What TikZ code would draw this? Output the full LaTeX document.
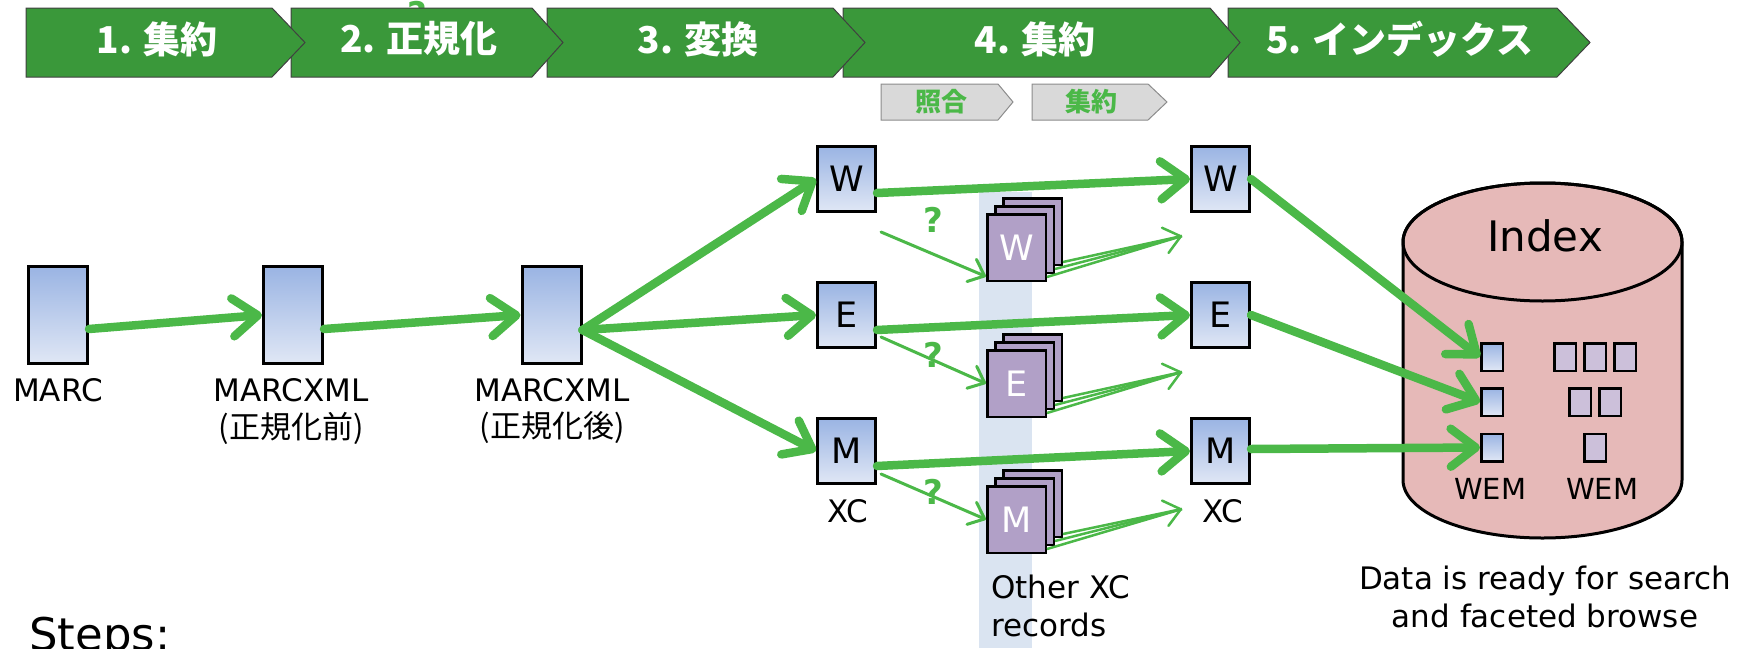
\documentclass[tikz,border=0pt]{standalone}
\usepackage{fontspec}
\setmainfont{DejaVu Sans}
\newfontfamily\jp{Noto Sans CJK JP}
\usetikzlibrary{arrows.meta,calc}
\definecolor{chev}{HTML}{3A983A}
\definecolor{arr}{HTML}{4BB848}
\definecolor{boxtop}{HTML}{9AB4E3}
\definecolor{boxbot}{HTML}{E0E7F5}
\definecolor{pagec}{HTML}{B1A0C7}
\definecolor{idx}{HTML}{E6B9B8}
\definecolor{idxp}{HTML}{CCC0DA}
\definecolor{shadec}{HTML}{DAE4F1}
\definecolor{subfill}{HTML}{D9D9D9}
\newcommand\myfs[1]{\fontsize{#1}{#1}\selectfont}
\begin{document}
\begin{tikzpicture}[x=1pt,y=-1pt,
 every node/.style={inner sep=0pt},
 chevshape/.style={fill=chev,draw=black!75,line width=1pt},
 chevtext/.style={text=white,font=\jp\bfseries\myfs{37}},
 subshape/.style={fill=subfill,draw=black!45,line width=1pt},
 subtext/.style={text=arr,font=\jp\bfseries\myfs{26}},
 bluebox/.style={draw=black,line width=3pt,top color=boxtop,bottom color=boxbot,minimum width=58pt,minimum height=65pt,font=\myfs{35}},
 tallbox/.style={draw=black,line width=3pt,top color=boxtop,bottom color=boxbot,minimum width=59pt,minimum height=97pt},
 pagebox/.style={draw=black,line width=2.5pt,fill=pagec,minimum width=58.5pt,minimum height=66.5pt,text=white,font=\myfs{35}},
 lbl/.style={font=\myfs{31}},
 jlbl/.style={font=\jp\myfs{31}},
 fatarrow/.style={draw=arr,line width=8.5pt,line cap=round,-{Straight Barb[length=25pt,width=38pt,round]}},
 thinarrow/.style={draw=arr,line width=3pt,line cap=round,-{Straight Barb[length=14pt,width=24pt,round]}},
 fanarrow/.style={draw=arr,line width=2.5pt,-{Straight Barb[length=16pt,width=26pt,round]}},
 fanline/.style={draw=arr,line width=2.5pt},
 qmark/.style={text=arr,font=\bfseries\myfs{34}},
 idxblue/.style={draw=black,line width=2.5pt,top color=boxtop,bottom color=boxbot,minimum width=21.5pt,minimum height=27.5pt},
 idxpurple/.style={draw=black,line width=2.5pt,fill=idxp,minimum width=21.5pt,minimum height=27.5pt},
]
\useasboundingbox (0,0) rectangle (1745,648);

% hidden question mark behind chevron 2
\node[qmark] (qtop) at (417,14) {?};

% chevrons (drawn right to left so tips overlap next)
\path[chevshape] (1228,8) -- (1557,8) -- (1590,42.5) -- (1557,77) -- (1228,77) -- cycle;
\path[chevshape] (843,8) -- (1210,8) -- (1240,42.5) -- (1210,77) -- (843,77) -- cycle;
\path[chevshape] (547,8) -- (833,8) -- (865,42.5) -- (833,77) -- (547,77) -- cycle;
\path[chevshape] (291,8) -- (532,8) -- (563,42.5) -- (532,77) -- (291,77) -- cycle;
\path[chevshape] (26,8) -- (272,8) -- (305,42.5) -- (272,77) -- (26,77) -- cycle;
\node[chevtext] (c1) at (157,39) {1. 集約};
\node[chevtext] (c2) at (419,39) {2. 正規化};
\node[chevtext] (c3) at (698,39) {3. 変換};
\node[chevtext] (c4) at (1035,39) {4. 集約};
\node[chevtext] (c5) at (1400,39) {5. インデックス};

% sub chevrons
\path[subshape] (881,84) -- (998,84) -- (1013,102) -- (998,120) -- (881,120) -- cycle;
\path[subshape] (1032,84) -- (1148,84) -- (1167,102) -- (1148,120) -- (1032,120) -- cycle;
\node[subtext] (s1) at (941,102) {照合};
\node[subtext] (s2) at (1091,102) {集約};

% shaded column
\fill[shadec] (979,192) rectangle (1032,648);

% source boxes
\node[tallbox] (marc) at (58,315) {};
\node[tallbox] (mx1) at (293,315) {};
\node[tallbox] (mx2) at (551.5,315) {};
\node[lbl,anchor=base] (lmarc) at (58,401) {MARC};
\node[lbl,anchor=base] (lmx1) at (291,401) {MARCXML};
\node[jlbl] (lmx1b) at (291,428) {(正規化前)};
\node[lbl,anchor=base] (lmx2) at (552,401) {MARCXML};
\node[jlbl] (lmx2b) at (552,428) {(正規化後)};

% XC boxes
\node[bluebox] (wl) at (846.5,179) {W};
\node[bluebox] (el) at (846.5,315) {E};
\node[bluebox] (ml) at (846.5,451) {M};
\node[bluebox] (wr) at (1220.5,179) {W};
\node[bluebox] (er) at (1220.5,315) {E};
\node[bluebox] (mr) at (1220.5,451) {M};
\node[lbl,anchor=base] (xcl) at (848,522) {XC};
\node[lbl,anchor=base] (xcr) at (1223,522) {XC};

% page stacks
\node[pagebox] (pw1) at (1032.5,231.5) {};
\node[pagebox] (pw2) at (1024.5,239.5) {};
\node[pagebox] (pw) at (1016.5,247.5) {W};
\node[pagebox] (pe1) at (1032.5,367.5) {};
\node[pagebox] (pe2) at (1024.5,375.5) {};
\node[pagebox] (pe) at (1016.5,383.5) {E};
\node[pagebox] (pm1) at (1032.5,503.5) {};
\node[pagebox] (pm2) at (1024.5,511.5) {};
\node[pagebox] (pm) at (1016.5,519.5) {M};
\node[lbl,anchor=base west] (oth1) at (991,598) {Other XC};
\node[lbl,anchor=base west] (oth2) at (991,636) {records};

% fan coordinates
\coordinate (cw) at (1182,236);
\coordinate (ce) at (1182,372);
\coordinate (cm) at (1182,509);

% index cylinder
\path[fill=idx,draw=black,line width=3pt] (1403,242) -- (1403,480)
  arc[start angle=180,end angle=360,x radius=139.5pt,y radius=58pt] -- (1682,242)
  arc[start angle=0,end angle=180,x radius=139.5pt,y radius=59pt] -- cycle;
\draw[line width=3pt] (1542.5,242) ellipse[x radius=139.5pt,y radius=59pt];
\node[font=\myfs{42},anchor=base] (idxlabel) at (1545,251) {Index};
\node[idxblue] (b1) at (1492,357) {};
\node[idxblue] (b2) at (1492,402) {};
\node[idxblue] (b3) at (1492,447.5) {};
\node[idxpurple] (p11) at (1565,357) {};
\node[idxpurple] (p12) at (1595,357) {};
\node[idxpurple] (p13) at (1625,357) {};
\node[idxpurple] (p21) at (1580,402) {};
\node[idxpurple] (p22) at (1610,402) {};
\node[idxpurple] (p31) at (1595,447.5) {};
\node[font=\myfs{29},anchor=base] (wem1) at (1490,499) {WEM};
\node[font=\myfs{29},anchor=base] (wem2) at (1602,499) {WEM};
\node[lbl,anchor=base] (d1) at (1545,589) {Data is ready for search};
\node[lbl,anchor=base] (d2) at (1545,627) {and faceted browse};

% Steps
\node[font=\myfs{45},anchor=base west] (steps) at (29,650) {Steps:};

% thick arrows
\draw[fatarrow] ($(marc.east)+(0,14)$) -- (mx1.west);
\draw[fatarrow] ($(mx1.east)+(0,14)$) -- (mx2.west);
\draw[fatarrow] ($(mx2.east)+(0,15)$) -- (wl.west);
\draw[fatarrow] ($(mx2.east)+(0,15)$) -- (el.west);
\draw[fatarrow] ($(mx2.east)+(0,15)$) -- (ml.west);
\draw[fatarrow] ($(wl.east)+(0,14)$) -- (wr.west);
\draw[fatarrow] ($(el.east)+(0,15)$) -- (er.west);
\draw[fatarrow] ($(ml.east)+(0,15)$) -- (mr.west);
\draw[fatarrow] (wr.east) -- (b1.west);
\draw[fatarrow] (er.east) -- (b2.west);
\draw[fatarrow] ($(mr.east)+(0,-2)$) -- (b3.west);

% thin arrows to stacks
\draw[thinarrow] ($(wl.south east)+(4,19)$) -- ($(pw.west)+(0,29)$);
\draw[thinarrow] ($(el.east)+(4,22)$) -- (pe.west);
\draw[thinarrow] ($(ml.east)+(4,23)$) -- (pm.west);

% fans
\draw[fanline] ($(pw.south east)+(0,-5)$) -- (cw);
\draw[fanline] ($(pw1.south east)+(0,-4)$) -- (cw);
\draw[fanarrow] ($(pw2.south east)+(0,-5)$) -- (cw);
\draw[fanline] ($(pe.south east)+(0,-5)$) -- (ce);
\draw[fanline] ($(pe1.south east)+(0,-4)$) -- (ce);
\draw[fanarrow] ($(pe2.south east)+(0,-5)$) -- (ce);
\draw[fanline] ($(pm.south east)+(0,-5)$) -- (cm);
\draw[fanline] ($(pm1.south east)+(0,-4)$) -- (cm);
\draw[fanarrow] ($(pm2.south east)+(0,-5)$) -- (cm);

% question marks
\node[qmark] (q1) at (933,220) {?};
\node[qmark] (q2) at (933,355) {?};
\node[qmark] (q3) at (933,492) {?};
\end{tikzpicture}
\end{document}
